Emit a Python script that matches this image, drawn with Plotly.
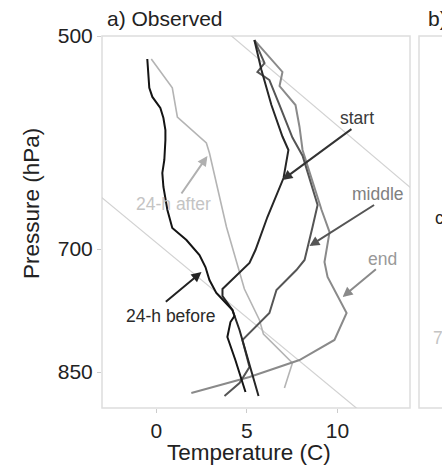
import numpy as np
import plotly.graph_objects as go

# ---------------- data (temperature in C, pressure in hPa) ----------------
before_T = [-0.50, -0.39, -0.22, 0.22, 0.39, 0.50, 0.50, 0.44, 0.33, 0.39, 0.61, 0.88,
            1.66, 2.38, 2.71, 2.93, 3.31, 3.87, 4.20, 4.31, 4.09, 3.92, 4.36, 4.92]
before_p = [518.5, 542.7, 550.5, 560.2, 569.1, 580.0, 589.2, 608.1, 620.7, 634.6, 658.1, 677.1,
            690.0, 706.6, 720.1, 735.0, 750.2, 762.2, 770.6, 778.0, 785.4, 804.2, 834.0, 877.2]

after_T = [-0.28, 0.88, 1.16, 2.76, 2.93, 3.87, 4.86, 5.69, 5.91, 7.51, 7.07]
after_p = [518.5, 542.7, 568.2, 592.0, 601.4, 676.0, 745.5, 782.9, 800.4, 837.9, 871.7]

start_T = [5.41, 5.80, 6.35, 6.96, 7.29, 7.02, 6.13, 5.47, 5.14, 3.65, 3.65, 4.20, 4.59, 5.14, 5.64]
start_p = [503.2, 527.6, 557.6, 586.0, 598.6, 625.7, 665.4, 701.0, 715.5, 745.5, 753.8,
           770.6, 795.4, 840.6, 882.7]

middle_T = [5.41, 5.97, 5.58, 6.24, 6.80, 7.51, 8.07, 8.90, 8.62, 8.18, 7.73, 6.63, 6.24,
            5.14, 4.75, 5.14, 4.59, 3.76]
middle_p = [503.2, 521.8, 529.2, 536.0, 557.6, 587.0, 604.0, 652.9, 676.0, 712.1, 723.5,
            746.7, 774.3, 799.1, 808.0, 843.3, 864.8, 882.7]

end_T = [5.41, 6.96, 6.80, 7.68, 7.90, 8.07, 9.12, 9.56, 9.28, 9.45, 10.50, 9.83, 7.90,
         5.14, 1.93]
end_p = [503.2, 529.2, 541.1, 557.6, 577.0, 598.6, 658.1, 681.4, 714.4, 731.5, 774.3,
         808.0, 834.0, 856.7, 878.6]

ref1_T = [3.76, 15.08]
ref1_p = [495.3, 651.7]
ref2_T = [-3.43, 11.77]
ref2_p = [638.9, 915.3]

# labels: text, text position, arrow tail, arrow head, colours
label_text = ["start", "middle", "end", "24-h after", "24-h before"]
label_T = [11.10, 12.21, 12.49, 0.94, 0.83]
label_p = [569.1, 641.6, 711.0, 651.9, 778.0]
tail_T = [10.85, 12.10, 12.20, 1.33, 0.44]
tail_p = [578.2, 651.9, 721.2, 642.7, 762.2]
head_T = [6.96, 8.45, 10.28, 2.82, 2.49]
head_p = [627.6, 696.6, 755.0, 604.3, 725.8]
label_col = ["#3a3a3a", "#808080", "#999999", "#c4c4c4", "#2a2a2a"]
arrow_col = ["#333333", "#555555", "#8a8a8a", "#b0b0b0", "#222222"]

x_ticks = [0, 5, 10]
y_ticks = [500, 700, 850]
x_range = [-3, 14]
p_range = [899.6, 500]

# ---------------- figure ----------------
W, H = 442, 468
L, R, T, B = 102, 410, 36, 408     # panel a box (pixels)
BL = 419                            # panel b left edge (pixels)

fig = go.Figure()

def add_line(Tv, pv, color, width):
    fig.add_trace(go.Scatter(x=Tv, y=pv, mode="lines",
                             line=dict(color=color, width=width),
                             hoverinfo="skip", showlegend=False,
                             xaxis="x", yaxis="y"))

add_line(ref1_T, ref1_p, "#d2d2d2", 1.2)
add_line(ref2_T, ref2_p, "#d2d2d2", 1.2)
add_line(after_T, after_p, "#b4b4b4", 1.6)
add_line(end_T, end_p, "#8a8a8a", 2)
add_line(middle_T, middle_p, "#555555", 2)
add_line(start_T, start_p, "#262626", 2)
add_line(before_T, before_p, "#141414", 2)

font_family = "Liberation Sans, Arial, Helvetica, sans-serif"

fig.update_layout(
    width=W, height=H, autosize=False,
    margin=dict(l=0, r=0, t=0, b=0, pad=0),
    paper_bgcolor="white", plot_bgcolor="white",
    font=dict(family=font_family, color="#222222"),
    xaxis=dict(domain=[L / W, R / W], range=x_range, tickvals=x_ticks,
               ticks="outside", ticklen=4, tickcolor="#cccccc", tickwidth=1,
               showgrid=False, zeroline=False, showline=False, automargin=False,
               tickfont=dict(size=21, color="#222222"), anchor="y"),
    yaxis=dict(domain=[1 - B / H, 1 - T / H], type="log",
               range=[np.log10(p_range[0]), np.log10(p_range[1])],
               tickvals=y_ticks, ticktext=[str(v) for v in y_ticks],
               ticks="outside", ticklen=4, tickcolor="#cccccc", tickwidth=1,
               showgrid=False, zeroline=False, showline=False, automargin=False,
               tickfont=dict(size=21, color="#222222"), anchor="x"),
    xaxis2=dict(domain=[BL / W, 1], range=x_range, visible=False, anchor="y2",
                automargin=False),
    yaxis2=dict(domain=[1 - B / H, 1 - T / H], type="log",
                range=[np.log10(p_range[0]), np.log10(p_range[1])],
                tickvals=y_ticks[1:], showticklabels=False,
                ticks="outside", ticklen=4, tickcolor="#cccccc", tickwidth=1,
                showgrid=False, zeroline=False, showline=False, anchor="x2",
                automargin=False),
)

# panel frames
fig.add_shape(type="rect", xref="paper", yref="paper",
              x0=L / W, x1=R / W, y0=1 - B / H, y1=1 - T / H,
              line=dict(color="#dddddd", width=1.5), layer="below")
fig.add_shape(type="rect", xref="paper", yref="paper",
              x0=BL / W, x1=1.6, y0=1 - B / H, y1=1 - T / H,
              line=dict(color="#dddddd", width=1.5), layer="below")

# arrows and labels
for i in range(len(label_text)):
    fig.add_annotation(x=head_T[i], y=np.log10(head_p[i]), xref="x", yref="y",
                       ax=tail_T[i], ay=np.log10(tail_p[i]), axref="x", ayref="y",
                       text="", showarrow=True, arrowhead=2, arrowsize=1,
                       arrowwidth=2, arrowcolor=arrow_col[i], standoff=0, startstandoff=0)
    fig.add_annotation(x=label_T[i], y=np.log10(label_p[i]), xref="x", yref="y",
                       text=label_text[i], showarrow=False,
                       font=dict(size=17.5, color=label_col[i], family=font_family),
                       xanchor="center", yanchor="middle")

# titles
fig.add_annotation(x=105 / W, y=1 - 19 / H, xref="paper", yref="paper",
                   text="a) Observed", showarrow=False, xanchor="left", yanchor="middle",
                   font=dict(size=21, color="#222222"))
fig.add_annotation(x=426 / W, y=1 - 19 / H, xref="paper", yref="paper",
                   text="b) Model", showarrow=False, xanchor="left", yanchor="middle",
                   font=dict(size=21, color="#222222"))
fig.add_annotation(x=249 / W, y=1 - 452 / H, xref="paper", yref="paper",
                   text="Temperature (C)", showarrow=False, xanchor="center", yanchor="middle",
                   font=dict(size=22.5, color="#222222"))
fig.add_annotation(x=31 / W, y=1 - 204 / H, xref="paper", yref="paper",
                   text="Pressure (hPa)", showarrow=False, textangle=-90,
                   xanchor="center", yanchor="middle",
                   font=dict(size=22.5, color="#222222"))
# fragments of panel b labels at the crop edge
fig.add_annotation(x=433 / W, y=1 - 218 / H, xref="paper", yref="paper",
                   text="c", showarrow=False, xanchor="left", yanchor="middle",
                   font=dict(size=17.5, color="#222222"))
fig.add_annotation(x=431 / W, y=1 - 338 / H, xref="paper", yref="paper",
                   text="7", showarrow=False, xanchor="left", yanchor="middle",
                   font=dict(size=17.5, color="#c4c4c4"))

fig.write_html("out.html",
               config={"displayModeBar": False},
               post_script="document.body.style.margin='0';"
                           "document.body.style.overflow='hidden';")
